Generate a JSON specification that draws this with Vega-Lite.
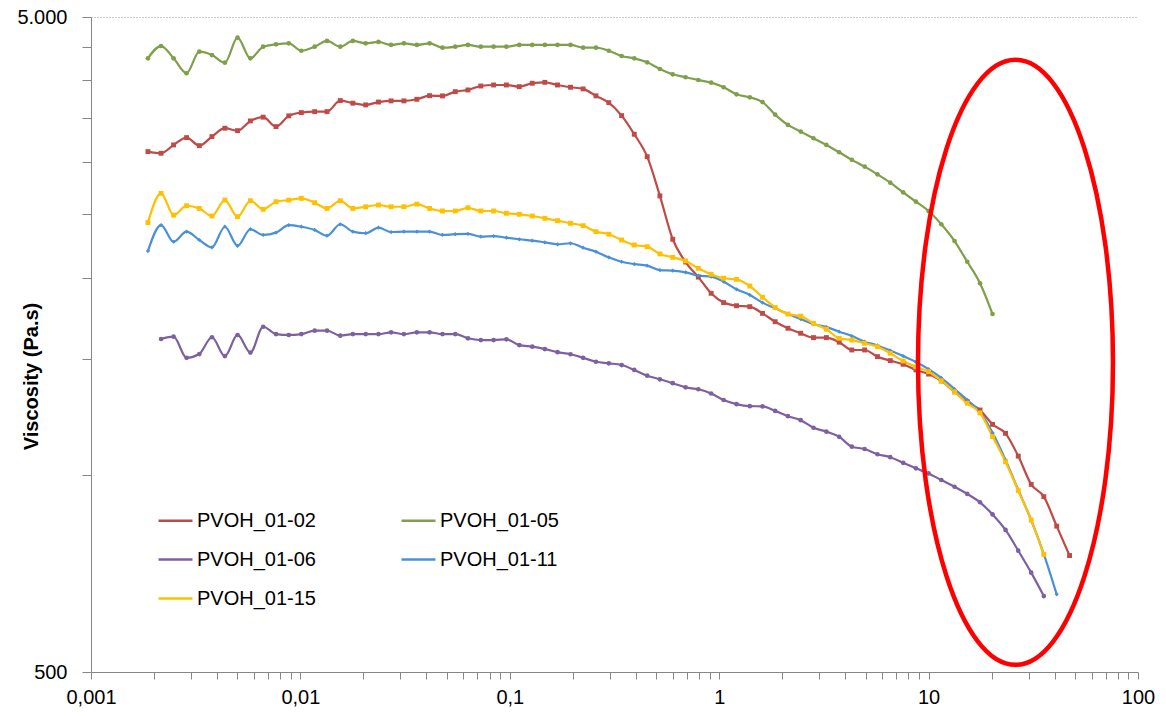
{
  "$schema": "https://vega.github.io/schema/vega-lite/v6.json",
  "width": 1047,
  "height": 655,
  "autosize": {"type": "none"},
  "padding": {"left": 91, "top": 17, "right": 28, "bottom": 44},
  "background": "white",
  "config": {
    "view": {"stroke": null},
    "axis": {"domainColor": "#868686", "tickColor": "#868686", "labelFont": "Liberation Sans", "labelFontSize": 20, "labelColor": "#000000", "labelFontWeight": "normal", "grid": false},
    "legend": {"labelFont": "Liberation Sans", "labelFontSize": 20, "labelColor": "#000000"}
  },
  "datasets": {
    "ell": [{"x": 26.0, "v": 1485}]
  },
  "data": {"values": [
    {"s":"PVOH_01-02","x":0.00187,"v":3115},{"s":"PVOH_01-02","x":0.00216,"v":3097},{"s":"PVOH_01-02","x":0.00248,"v":3189},{"s":"PVOH_01-02","x":0.00286,"v":3272},{"s":"PVOH_01-02","x":0.00329,"v":3181},{"s":"PVOH_01-02","x":0.00378,"v":3284},{"s":"PVOH_01-02","x":0.00436,"v":3382},{"s":"PVOH_01-02","x":0.00501,"v":3353},{"s":"PVOH_01-02","x":0.00577,"v":3470},{"s":"PVOH_01-02","x":0.00664,"v":3516},
    {"s":"PVOH_01-02","x":0.00765,"v":3401},{"s":"PVOH_01-02","x":0.0088,"v":3532},{"s":"PVOH_01-02","x":0.0101,"v":3573},{"s":"PVOH_01-02","x":0.0117,"v":3585},{"s":"PVOH_01-02","x":0.0134,"v":3585},{"s":"PVOH_01-02","x":0.0155,"v":3727},{"s":"PVOH_01-02","x":0.0178,"v":3693},{"s":"PVOH_01-02","x":0.0205,"v":3671},{"s":"PVOH_01-02","x":0.0236,"v":3708},{"s":"PVOH_01-02","x":0.0271,"v":3723},
    {"s":"PVOH_01-02","x":0.0312,"v":3723},{"s":"PVOH_01-02","x":0.036,"v":3744},{"s":"PVOH_01-02","x":0.0414,"v":3792},{"s":"PVOH_01-02","x":0.0477,"v":3789},{"s":"PVOH_01-02","x":0.0549,"v":3846},{"s":"PVOH_01-02","x":0.0631,"v":3869},{"s":"PVOH_01-02","x":0.0727,"v":3923},{"s":"PVOH_01-02","x":0.0837,"v":3937},{"s":"PVOH_01-02","x":0.0963,"v":3937},{"s":"PVOH_01-02","x":0.111,"v":3914},
    {"s":"PVOH_01-02","x":0.128,"v":3961},{"s":"PVOH_01-02","x":0.147,"v":3974},{"s":"PVOH_01-02","x":0.169,"v":3937},{"s":"PVOH_01-02","x":0.195,"v":3906},{"s":"PVOH_01-02","x":0.224,"v":3883},{"s":"PVOH_01-02","x":0.258,"v":3789},{"s":"PVOH_01-02","x":0.297,"v":3700},{"s":"PVOH_01-02","x":0.342,"v":3535},{"s":"PVOH_01-02","x":0.393,"v":3311},{"s":"PVOH_01-02","x":0.453,"v":3060},
    {"s":"PVOH_01-02","x":0.521,"v":2666},{"s":"PVOH_01-02","x":0.6,"v":2289},{"s":"PVOH_01-02","x":0.691,"v":2113},{"s":"PVOH_01-02","x":0.795,"v":2004},{"s":"PVOH_01-02","x":0.915,"v":1893},{"s":"PVOH_01-02","x":1.05,"v":1832},{"s":"PVOH_01-02","x":1.21,"v":1812},{"s":"PVOH_01-02","x":1.4,"v":1806},{"s":"PVOH_01-02","x":1.61,"v":1764},{"s":"PVOH_01-02","x":1.85,"v":1713},
    {"s":"PVOH_01-02","x":2.13,"v":1674},{"s":"PVOH_01-02","x":2.45,"v":1645},{"s":"PVOH_01-02","x":2.82,"v":1620},{"s":"PVOH_01-02","x":3.25,"v":1620},{"s":"PVOH_01-02","x":3.74,"v":1594},{"s":"PVOH_01-02","x":4.3,"v":1551},{"s":"PVOH_01-02","x":4.95,"v":1551},{"s":"PVOH_01-02","x":5.7,"v":1515},{"s":"PVOH_01-02","x":6.56,"v":1494},{"s":"PVOH_01-02","x":7.56,"v":1475},
    {"s":"PVOH_01-02","x":8.7,"v":1446},{"s":"PVOH_01-02","x":10,"v":1425},{"s":"PVOH_01-02","x":11.5,"v":1391},{"s":"PVOH_01-02","x":13.3,"v":1339},{"s":"PVOH_01-02","x":15.3,"v":1293},{"s":"PVOH_01-02","x":17.6,"v":1256},{"s":"PVOH_01-02","x":20.2,"v":1194},{"s":"PVOH_01-02","x":23.3,"v":1157},{"s":"PVOH_01-02","x":26.8,"v":1068},{"s":"PVOH_01-02","x":30.9,"v":967},
    {"s":"PVOH_01-02","x":35.5,"v":926},{"s":"PVOH_01-02","x":40.9,"v":835},{"s":"PVOH_01-02","x":47.1,"v":753},

    {"s":"PVOH_01-05","x":0.00187,"v":4324},{"s":"PVOH_01-05","x":0.00216,"v":4515},{"s":"PVOH_01-05","x":0.00248,"v":4324},{"s":"PVOH_01-05","x":0.00286,"v":4103},{"s":"PVOH_01-05","x":0.00329,"v":4426},{"s":"PVOH_01-05","x":0.00378,"v":4374},{"s":"PVOH_01-05","x":0.00436,"v":4258},{"s":"PVOH_01-05","x":0.00501,"v":4649},{"s":"PVOH_01-05","x":0.00577,"v":4324},{"s":"PVOH_01-05","x":0.00664,"v":4504},
    {"s":"PVOH_01-05","x":0.00765,"v":4542},{"s":"PVOH_01-05","x":0.0088,"v":4558},{"s":"PVOH_01-05","x":0.0101,"v":4441},{"s":"PVOH_01-05","x":0.0117,"v":4504},{"s":"PVOH_01-05","x":0.0134,"v":4596},{"s":"PVOH_01-05","x":0.0155,"v":4504},{"s":"PVOH_01-05","x":0.0178,"v":4596},{"s":"PVOH_01-05","x":0.0205,"v":4558},{"s":"PVOH_01-05","x":0.0236,"v":4580},{"s":"PVOH_01-05","x":0.0271,"v":4532},
    {"s":"PVOH_01-05","x":0.0312,"v":4558},{"s":"PVOH_01-05","x":0.036,"v":4532},{"s":"PVOH_01-05","x":0.0414,"v":4558},{"s":"PVOH_01-05","x":0.0477,"v":4489},{"s":"PVOH_01-05","x":0.0549,"v":4504},{"s":"PVOH_01-05","x":0.0631,"v":4532},{"s":"PVOH_01-05","x":0.0727,"v":4504},{"s":"PVOH_01-05","x":0.0837,"v":4504},{"s":"PVOH_01-05","x":0.0963,"v":4504},{"s":"PVOH_01-05","x":0.111,"v":4532},
    {"s":"PVOH_01-05","x":0.128,"v":4532},{"s":"PVOH_01-05","x":0.147,"v":4532},{"s":"PVOH_01-05","x":0.169,"v":4532},{"s":"PVOH_01-05","x":0.195,"v":4532},{"s":"PVOH_01-05","x":0.224,"v":4489},{"s":"PVOH_01-05","x":0.258,"v":4489},{"s":"PVOH_01-05","x":0.297,"v":4441},{"s":"PVOH_01-05","x":0.342,"v":4359},{"s":"PVOH_01-05","x":0.393,"v":4324},{"s":"PVOH_01-05","x":0.453,"v":4264},
    {"s":"PVOH_01-05","x":0.521,"v":4165},{"s":"PVOH_01-05","x":0.6,"v":4088},{"s":"PVOH_01-05","x":0.691,"v":4046},{"s":"PVOH_01-05","x":0.795,"v":4007},{"s":"PVOH_01-05","x":0.915,"v":3970},{"s":"PVOH_01-05","x":1.05,"v":3906},{"s":"PVOH_01-05","x":1.21,"v":3810},{"s":"PVOH_01-05","x":1.4,"v":3770},{"s":"PVOH_01-05","x":1.61,"v":3708},{"s":"PVOH_01-05","x":1.85,"v":3548},
    {"s":"PVOH_01-05","x":2.13,"v":3421},{"s":"PVOH_01-05","x":2.45,"v":3342},{"s":"PVOH_01-05","x":2.82,"v":3265},{"s":"PVOH_01-05","x":3.25,"v":3189},{"s":"PVOH_01-05","x":3.74,"v":3108},{"s":"PVOH_01-05","x":4.3,"v":3026},{"s":"PVOH_01-05","x":4.95,"v":2955},{"s":"PVOH_01-05","x":5.7,"v":2876},{"s":"PVOH_01-05","x":6.56,"v":2793},{"s":"PVOH_01-05","x":7.56,"v":2700},
    {"s":"PVOH_01-05","x":8.7,"v":2612},{"s":"PVOH_01-05","x":10,"v":2528},{"s":"PVOH_01-05","x":11.5,"v":2413},{"s":"PVOH_01-05","x":13.3,"v":2275},{"s":"PVOH_01-05","x":15.3,"v":2115},{"s":"PVOH_01-05","x":17.6,"v":1961},{"s":"PVOH_01-05","x":20.2,"v":1760},

    {"s":"PVOH_01-06","x":0.00216,"v":1612},{"s":"PVOH_01-06","x":0.00248,"v":1625},{"s":"PVOH_01-06","x":0.00286,"v":1509},{"s":"PVOH_01-06","x":0.00329,"v":1529},{"s":"PVOH_01-06","x":0.00378,"v":1622},{"s":"PVOH_01-06","x":0.00436,"v":1518},{"s":"PVOH_01-06","x":0.00501,"v":1635},{"s":"PVOH_01-06","x":0.00577,"v":1537},{"s":"PVOH_01-06","x":0.00664,"v":1683},
    {"s":"PVOH_01-06","x":0.00765,"v":1640},{"s":"PVOH_01-06","x":0.0088,"v":1635},{"s":"PVOH_01-06","x":0.0101,"v":1640},{"s":"PVOH_01-06","x":0.0117,"v":1660},{"s":"PVOH_01-06","x":0.0134,"v":1660},{"s":"PVOH_01-06","x":0.0155,"v":1631},{"s":"PVOH_01-06","x":0.0178,"v":1640},{"s":"PVOH_01-06","x":0.0205,"v":1640},{"s":"PVOH_01-06","x":0.0236,"v":1640},{"s":"PVOH_01-06","x":0.0271,"v":1650},
    {"s":"PVOH_01-06","x":0.0312,"v":1640},{"s":"PVOH_01-06","x":0.036,"v":1650},{"s":"PVOH_01-06","x":0.0414,"v":1650},{"s":"PVOH_01-06","x":0.0477,"v":1640},{"s":"PVOH_01-06","x":0.0549,"v":1640},{"s":"PVOH_01-06","x":0.0631,"v":1616},{"s":"PVOH_01-06","x":0.0727,"v":1606},{"s":"PVOH_01-06","x":0.0837,"v":1606},{"s":"PVOH_01-06","x":0.0963,"v":1610},{"s":"PVOH_01-06","x":0.111,"v":1578},
    {"s":"PVOH_01-06","x":0.128,"v":1569},{"s":"PVOH_01-06","x":0.147,"v":1556},{"s":"PVOH_01-06","x":0.169,"v":1539},{"s":"PVOH_01-06","x":0.195,"v":1528},{"s":"PVOH_01-06","x":0.224,"v":1509},{"s":"PVOH_01-06","x":0.258,"v":1488},{"s":"PVOH_01-06","x":0.297,"v":1480},{"s":"PVOH_01-06","x":0.342,"v":1471},{"s":"PVOH_01-06","x":0.393,"v":1446},{"s":"PVOH_01-06","x":0.453,"v":1417},
    {"s":"PVOH_01-06","x":0.521,"v":1399},{"s":"PVOH_01-06","x":0.6,"v":1380},{"s":"PVOH_01-06","x":0.691,"v":1360},{"s":"PVOH_01-06","x":0.795,"v":1351},{"s":"PVOH_01-06","x":0.915,"v":1331},{"s":"PVOH_01-06","x":1.05,"v":1301},{"s":"PVOH_01-06","x":1.21,"v":1282},{"s":"PVOH_01-06","x":1.4,"v":1273},{"s":"PVOH_01-06","x":1.61,"v":1272},{"s":"PVOH_01-06","x":1.85,"v":1252},
    {"s":"PVOH_01-06","x":2.13,"v":1229},{"s":"PVOH_01-06","x":2.45,"v":1212},{"s":"PVOH_01-06","x":2.82,"v":1180},{"s":"PVOH_01-06","x":3.25,"v":1164},{"s":"PVOH_01-06","x":3.74,"v":1143},{"s":"PVOH_01-06","x":4.3,"v":1104},{"s":"PVOH_01-06","x":4.95,"v":1095},{"s":"PVOH_01-06","x":5.7,"v":1075},{"s":"PVOH_01-06","x":6.56,"v":1064},{"s":"PVOH_01-06","x":7.56,"v":1043},
    {"s":"PVOH_01-06","x":8.7,"v":1023},{"s":"PVOH_01-06","x":10,"v":1005},{"s":"PVOH_01-06","x":11.5,"v":982},{"s":"PVOH_01-06","x":13.3,"v":959},{"s":"PVOH_01-06","x":15.3,"v":935},{"s":"PVOH_01-06","x":17.6,"v":908},{"s":"PVOH_01-06","x":20.2,"v":870},{"s":"PVOH_01-06","x":23.3,"v":824},{"s":"PVOH_01-06","x":26.8,"v":766},{"s":"PVOH_01-06","x":30.9,"v":709},
    {"s":"PVOH_01-06","x":35.5,"v":653},

    {"s":"PVOH_01-11","x":0.00187,"v":2196},{"s":"PVOH_01-11","x":0.00216,"v":2406},{"s":"PVOH_01-11","x":0.00248,"v":2269},{"s":"PVOH_01-11","x":0.00286,"v":2351},{"s":"PVOH_01-11","x":0.00329,"v":2283},{"s":"PVOH_01-11","x":0.00378,"v":2225},{"s":"PVOH_01-11","x":0.00436,"v":2392},{"s":"PVOH_01-11","x":0.00501,"v":2237},{"s":"PVOH_01-11","x":0.00577,"v":2371},{"s":"PVOH_01-11","x":0.00664,"v":2324},
    {"s":"PVOH_01-11","x":0.00765,"v":2343},{"s":"PVOH_01-11","x":0.0088,"v":2406},{"s":"PVOH_01-11","x":0.0101,"v":2392},{"s":"PVOH_01-11","x":0.0117,"v":2365},{"s":"PVOH_01-11","x":0.0134,"v":2318},{"s":"PVOH_01-11","x":0.0155,"v":2413},{"s":"PVOH_01-11","x":0.0178,"v":2351},{"s":"PVOH_01-11","x":0.0205,"v":2338},{"s":"PVOH_01-11","x":0.0236,"v":2384},{"s":"PVOH_01-11","x":0.0271,"v":2348},
    {"s":"PVOH_01-11","x":0.0312,"v":2351},{"s":"PVOH_01-11","x":0.036,"v":2351},{"s":"PVOH_01-11","x":0.0414,"v":2351},{"s":"PVOH_01-11","x":0.0477,"v":2324},{"s":"PVOH_01-11","x":0.0549,"v":2330},{"s":"PVOH_01-11","x":0.0631,"v":2332},{"s":"PVOH_01-11","x":0.0727,"v":2310},{"s":"PVOH_01-11","x":0.0837,"v":2315},{"s":"PVOH_01-11","x":0.0963,"v":2302},{"s":"PVOH_01-11","x":0.111,"v":2289},
    {"s":"PVOH_01-11","x":0.128,"v":2278},{"s":"PVOH_01-11","x":0.147,"v":2264},{"s":"PVOH_01-11","x":0.169,"v":2249},{"s":"PVOH_01-11","x":0.195,"v":2257},{"s":"PVOH_01-11","x":0.224,"v":2222},{"s":"PVOH_01-11","x":0.258,"v":2191},{"s":"PVOH_01-11","x":0.297,"v":2148},{"s":"PVOH_01-11","x":0.342,"v":2115},{"s":"PVOH_01-11","x":0.393,"v":2098},{"s":"PVOH_01-11","x":0.453,"v":2086},
    {"s":"PVOH_01-11","x":0.521,"v":2054},{"s":"PVOH_01-11","x":0.6,"v":2050},{"s":"PVOH_01-11","x":0.691,"v":2038},{"s":"PVOH_01-11","x":0.795,"v":2014},{"s":"PVOH_01-11","x":0.915,"v":2007},{"s":"PVOH_01-11","x":1.05,"v":1972},{"s":"PVOH_01-11","x":1.21,"v":1920},{"s":"PVOH_01-11","x":1.4,"v":1882},{"s":"PVOH_01-11","x":1.61,"v":1832},{"s":"PVOH_01-11","x":1.85,"v":1796},
    {"s":"PVOH_01-11","x":2.13,"v":1760},{"s":"PVOH_01-11","x":2.45,"v":1729},{"s":"PVOH_01-11","x":2.82,"v":1699},{"s":"PVOH_01-11","x":3.25,"v":1681},{"s":"PVOH_01-11","x":3.74,"v":1654},{"s":"PVOH_01-11","x":4.3,"v":1629},{"s":"PVOH_01-11","x":4.95,"v":1597},{"s":"PVOH_01-11","x":5.7,"v":1576},{"s":"PVOH_01-11","x":6.56,"v":1548},{"s":"PVOH_01-11","x":7.56,"v":1518},
    {"s":"PVOH_01-11","x":8.7,"v":1487},{"s":"PVOH_01-11","x":10,"v":1450},{"s":"PVOH_01-11","x":11.5,"v":1406},{"s":"PVOH_01-11","x":13.3,"v":1352},{"s":"PVOH_01-11","x":15.3,"v":1301},{"s":"PVOH_01-11","x":17.6,"v":1247},{"s":"PVOH_01-11","x":20.2,"v":1159},{"s":"PVOH_01-11","x":23.3,"v":1054},{"s":"PVOH_01-11","x":26.8,"v":948},{"s":"PVOH_01-11","x":30.9,"v":853},
    {"s":"PVOH_01-11","x":35.5,"v":757},{"s":"PVOH_01-11","x":40.9,"v":657},

    {"s":"PVOH_01-15","x":0.00187,"v":2427},{"s":"PVOH_01-15","x":0.00216,"v":2690},{"s":"PVOH_01-15","x":0.00248,"v":2492},{"s":"PVOH_01-15","x":0.00286,"v":2575},{"s":"PVOH_01-15","x":0.00329,"v":2551},{"s":"PVOH_01-15","x":0.00378,"v":2484},{"s":"PVOH_01-15","x":0.00436,"v":2627},{"s":"PVOH_01-15","x":0.00501,"v":2478},{"s":"PVOH_01-15","x":0.00577,"v":2621},{"s":"PVOH_01-15","x":0.00664,"v":2543},
    {"s":"PVOH_01-15","x":0.00765,"v":2612},{"s":"PVOH_01-15","x":0.0088,"v":2627},{"s":"PVOH_01-15","x":0.0101,"v":2643},{"s":"PVOH_01-15","x":0.0117,"v":2603},{"s":"PVOH_01-15","x":0.0134,"v":2551},{"s":"PVOH_01-15","x":0.0155,"v":2621},{"s":"PVOH_01-15","x":0.0178,"v":2551},{"s":"PVOH_01-15","x":0.0205,"v":2566},{"s":"PVOH_01-15","x":0.0236,"v":2582},{"s":"PVOH_01-15","x":0.0271,"v":2566},
    {"s":"PVOH_01-15","x":0.0312,"v":2566},{"s":"PVOH_01-15","x":0.036,"v":2590},{"s":"PVOH_01-15","x":0.0414,"v":2551},{"s":"PVOH_01-15","x":0.0477,"v":2528},{"s":"PVOH_01-15","x":0.0549,"v":2528},{"s":"PVOH_01-15","x":0.0631,"v":2557},{"s":"PVOH_01-15","x":0.0727,"v":2528},{"s":"PVOH_01-15","x":0.0837,"v":2528},{"s":"PVOH_01-15","x":0.0963,"v":2508},{"s":"PVOH_01-15","x":0.111,"v":2499},
    {"s":"PVOH_01-15","x":0.128,"v":2484},{"s":"PVOH_01-15","x":0.147,"v":2464},{"s":"PVOH_01-15","x":0.169,"v":2444},{"s":"PVOH_01-15","x":0.195,"v":2421},{"s":"PVOH_01-15","x":0.224,"v":2401},{"s":"PVOH_01-15","x":0.258,"v":2351},{"s":"PVOH_01-15","x":0.297,"v":2330},{"s":"PVOH_01-15","x":0.342,"v":2283},{"s":"PVOH_01-15","x":0.393,"v":2243},{"s":"PVOH_01-15","x":0.453,"v":2230},
    {"s":"PVOH_01-15","x":0.521,"v":2174},{"s":"PVOH_01-15","x":0.6,"v":2148},{"s":"PVOH_01-15","x":0.691,"v":2121},{"s":"PVOH_01-15","x":0.795,"v":2067},{"s":"PVOH_01-15","x":0.915,"v":2024},{"s":"PVOH_01-15","x":1.05,"v":1996},{"s":"PVOH_01-15","x":1.21,"v":1988},{"s":"PVOH_01-15","x":1.4,"v":1942},{"s":"PVOH_01-15","x":1.61,"v":1867},{"s":"PVOH_01-15","x":1.85,"v":1801},
    {"s":"PVOH_01-15","x":2.13,"v":1760},{"s":"PVOH_01-15","x":2.45,"v":1747},{"s":"PVOH_01-15","x":2.82,"v":1703},{"s":"PVOH_01-15","x":3.25,"v":1668},{"s":"PVOH_01-15","x":3.74,"v":1616},{"s":"PVOH_01-15","x":4.3,"v":1606},{"s":"PVOH_01-15","x":4.95,"v":1588},{"s":"PVOH_01-15","x":5.7,"v":1569},{"s":"PVOH_01-15","x":6.56,"v":1533},{"s":"PVOH_01-15","x":7.56,"v":1492},
    {"s":"PVOH_01-15","x":8.7,"v":1462},{"s":"PVOH_01-15","x":10,"v":1437},{"s":"PVOH_01-15","x":11.5,"v":1392},{"s":"PVOH_01-15","x":13.3,"v":1339},{"s":"PVOH_01-15","x":15.3,"v":1286},{"s":"PVOH_01-15","x":17.6,"v":1243},{"s":"PVOH_01-15","x":20.2,"v":1144},{"s":"PVOH_01-15","x":23.3,"v":1047},{"s":"PVOH_01-15","x":26.8,"v":946},{"s":"PVOH_01-15","x":30.9,"v":853},
    {"s":"PVOH_01-15","x":35.5,"v":756}
  ]},
  "layer": [
    {
      "mark": {"type": "line", "strokeWidth": 2.2, "interpolate": "monotone"},
      "encoding": {
        "x": {
          "field": "x", "type": "quantitative",
          "scale": {"type": "log", "domain": [0.001, 100], "nice": false},
          "axis": {
            "title": null,
            "values": [0.001,0.002,0.003,0.004,0.005,0.006,0.007,0.008,0.009,0.01,0.02,0.03,0.04,0.05,0.06,0.07,0.08,0.09,0.1,0.2,0.3,0.4,0.5,0.6,0.7,0.8,0.9,1,2,3,4,5,6,7,8,9,10,20,30,40,50,60,70,80,90,100],
            "labelExpr": "datum.value == 0.001 ? '0,001' : datum.value == 0.01 ? '0,01' : datum.value == 0.1 ? '0,1' : datum.value == 1 ? '1' : datum.value == 10 ? '10' : datum.value == 100 ? '100' : ''",
            "labelOverlap": false,
            "labelFlush": false,
            "tickSize": 7,
            "labelPadding": 8,
            "encode": {"ticks": {"update": {"y": {"value": -7}, "y2": {"signal": "(datum.value == 0.001 || datum.value == 0.01 || datum.value == 0.1 || datum.value == 1 || datum.value == 10 || datum.value == 100) ? 7 : 0"}}}}
          }
        },
        "y": {
          "field": "v", "type": "quantitative",
          "scale": {"type": "log", "domain": [500, 5000], "nice": false},
          "axis": {
            "title": "Viscosity (Pa.s)",
            "titleFont": "Liberation Sans", "titleFontSize": 20, "titleFontWeight": "bold", "titleColor": "#000000",
            "titleAngle": 270, "titleAlign": "center", "titleBaseline": "middle", "titleX": -60, "titleY": 359,
            "values": [500,1000,1500,2000,2500,3000,3500,4000,4500,5000],
            "labelExpr": "datum.value == 5000 ? '5.000' : datum.value == 500 ? '500' : ''",
            "labelOverlap": false,
            "labelFlush": false,
            "tickSize": 9,
            "labelPadding": 15,
            "grid": true,
            "gridColor": "#9a9a9a",
            "gridDash": [1, 2],
            "gridOpacity": {"condition": {"test": "datum.value == 5000", "value": 1}, "value": 0},
            "encode": {"ticks": {"update": {"x2": {"signal": "(datum.value == 500 || datum.value == 5000) ? -9 : -5"}}}}
          }
        },
        "color": {
          "field": "s", "type": "nominal",
          "scale": {"domain": ["PVOH_01-02","PVOH_01-05","PVOH_01-06","PVOH_01-11","PVOH_01-15"], "range": ["#BE4B48","#7F9F4A","#7D60A0","#4A90D9","#FFC000"]},
          "legend": {
            "title": null, "orient": "none", "legendX": 66, "legendY": 485,
            "columns": 2, "direction": "horizontal", "columnPadding": 80, "rowPadding": 10,
            "symbolType": "stroke", "symbolSize": 1156, "symbolStrokeWidth": 2.5, "labelOffset": 3,
            "labelFontSize": 20, "labelFont": "Liberation Sans"
          }
        }
      }
    },
    {
      "transform": [{"filter": "datum.s == 'PVOH_01-02'"}],
      "mark": {"type": "point", "filled": true, "opacity": 1, "size": 24, "shape": "square", "fill": "#BE4B48", "strokeWidth": 0},
      "encoding": {"x": {"field": "x", "type": "quantitative"}, "y": {"field": "v", "type": "quantitative"}}
    },
    {
      "transform": [{"filter": "datum.s == 'PVOH_01-05'"}],
      "mark": {"type": "point", "filled": true, "opacity": 1, "size": 22, "shape": "circle", "fill": "#7F9F4A", "strokeWidth": 0},
      "encoding": {"x": {"field": "x", "type": "quantitative"}, "y": {"field": "v", "type": "quantitative"}}
    },
    {
      "transform": [{"filter": "datum.s == 'PVOH_01-06'"}],
      "mark": {"type": "point", "filled": true, "opacity": 1, "size": 22, "shape": "circle", "fill": "#7D60A0", "strokeWidth": 0},
      "encoding": {"x": {"field": "x", "type": "quantitative"}, "y": {"field": "v", "type": "quantitative"}}
    },
    {
      "transform": [{"filter": "datum.s == 'PVOH_01-11'"}],
      "mark": {"type": "point", "filled": true, "opacity": 1, "size": 18, "shape": "diamond", "fill": "#4A90D9", "strokeWidth": 0},
      "encoding": {"x": {"field": "x", "type": "quantitative"}, "y": {"field": "v", "type": "quantitative"}}
    },
    {
      "transform": [{"filter": "datum.s == 'PVOH_01-15'"}],
      "mark": {"type": "point", "filled": true, "opacity": 1, "size": 24, "shape": "square", "fill": "#FFC000", "strokeWidth": 0},
      "encoding": {"x": {"field": "x", "type": "quantitative"}, "y": {"field": "v", "type": "quantitative"}}
    },
    {
      "data": {"name": "ell"},
      "mark": {
        "type": "point", "filled": false, "stroke": "#FF0000", "strokeWidth": 4.5, "opacity": 1,
        "shape": "M0.3223,0C0.3223,0.5523,0.178,1,0,1C-0.178,1,-0.3223,0.5523,-0.3223,0C-0.3223,-0.5523,-0.178,-1,0,-1C0.178,-1,0.3223,-0.5523,0.3223,0Z",
        "size": 366025
      },
      "encoding": {
        "x": {"field": "x", "type": "quantitative"},
        "y": {"field": "v", "type": "quantitative"}
      }
    }
  ]
}
